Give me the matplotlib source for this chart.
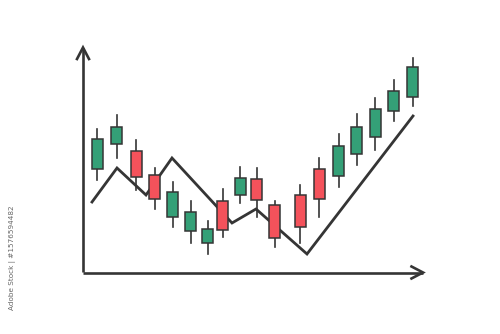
import matplotlib.pyplot as plt
from matplotlib.patches import Rectangle

# candles in pixel units (y grows downward)
x_pos = [97, 116.5, 136, 154.5, 172.5, 190.5, 207.5, 222.5, 240, 256.5, 274.5, 300, 319, 338.5, 356.5, 375, 393.5, 412.5]
body_top = [139, 127, 151, 175, 192, 212, 229, 201, 178, 179, 205, 195, 169, 146, 127, 109, 91, 67]
body_bot = [169, 144, 177, 199, 217, 231, 243, 230, 195, 200, 238, 227, 199, 176, 154, 137, 111, 97]
wick_top = [129, 115, 140, 168, 182, 201, 221, 189, 167, 168, 201, 185, 158, 134, 114, 98, 80, 58]
wick_bot = [180, 158, 190, 209, 227, 243, 254, 237, 203, 217, 247, 243, 217, 187, 165, 150, 121, 106]
is_up = [1, 1, 0, 0, 1, 1, 1, 0, 1, 0, 0, 0, 0, 1, 1, 1, 1, 1]

# trend zigzag
line_x = [92, 117, 146, 172, 232, 256, 307, 413]
line_y = [202, 168, 195, 158, 223, 209, 254, 116]

GREEN = '#34a077'
RED = '#f4525b'
DARK = '#353535'

fig = plt.figure(figsize=(5, 3.34), dpi=100)
ax = fig.add_axes([0, 0, 1, 1])
ax.set_xlim(0, 500); ax.set_ylim(334, 0)
ax.axis('off')

# axes with open arrowheads
ax.plot([83, 83], [272, 48], color=DARK, lw=1.9, solid_capstyle='butt')
ax.plot([83, 423], [272.5, 272.5], color=DARK, lw=1.9, solid_capstyle='butt')
ax.plot([77, 83, 89], [59, 47.5, 59], color=DARK, lw=1.9, solid_joinstyle='miter')
ax.plot([411.5, 423, 411.5], [266.5, 272.5, 278.5], color=DARK, lw=1.9, solid_joinstyle='miter')

ax.plot(line_x, line_y, color=DARK, lw=2.0, solid_joinstyle='miter', zorder=2)

w = 11
for x, bt, bb, wt, wb, up in zip(x_pos, body_top, body_bot, wick_top, wick_bot, is_up):
    ax.plot([x, x], [wt, wb], color=DARK, lw=1.2, zorder=3)
    ax.add_patch(Rectangle((x - w / 2, bt), w, bb - bt, facecolor=GREEN if up else RED,
                           edgecolor=DARK, lw=1.1, zorder=4))

ax.text(12.5, 258, 'Adobe Stock | #1576594482', rotation=90, ha='center', va='center',
        fontsize=5.2, color='#666666')

fig.savefig('out.png', dpi=100)
